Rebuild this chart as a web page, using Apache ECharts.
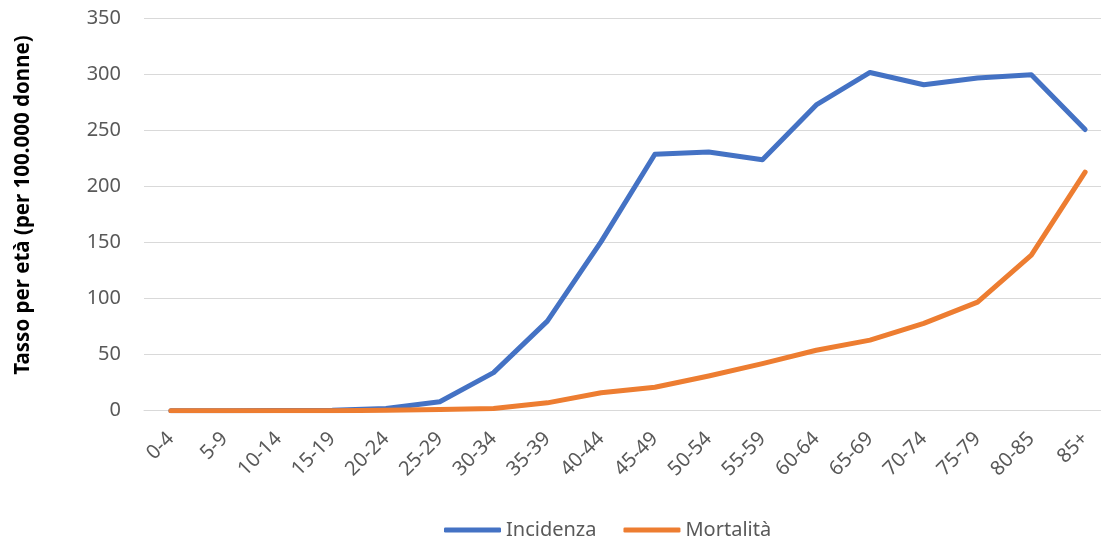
<!DOCTYPE html>
<html>
<head>
<meta charset="utf-8">
<script src="https://cdn.jsdelivr.net/npm/echarts@6/dist/echarts.min.js"></script>
<style>
	html, body { margin: 0; padding: 0; background: #fff; }
	#main { width: 1101px; height: 537px; }
</style>
</head>
<body>
<div id="main"></div>
<script>
const categories = ['0-4', '5-9', '10-14', '15-19', '20-24', '25-29', '30-34', '35-39', '40-44',
	'45-49', '50-54', '55-59', '60-64', '65-69', '70-74', '75-79', '80-85', '85+'];
const incidenza = [0, 0, 0.1, 0.5, 2, 8, 34, 80, 151, 229, 231, 224, 273, 302, 291, 297, 300, 251];
const mortalita = [0, 0, 0, 0, 0.3, 1, 2, 7, 16, 21, 31, 42, 54, 63, 78, 97, 139, 213];
const yTicks = [0, 50, 100, 150, 200, 250, 300, 350];

const FONT = '"Noto Sans", "Open Sans", sans-serif';

const myChart = echarts.init(document.getElementById('main'), null, { renderer: 'canvas' });

const option = {
	animation: false,
	color: ['#4472C4', '#ED7D31'],
	grid: {
		left: 144,
		width: 968,
		top: 18.7,
		height: 392,
		outerBoundsMode: 'none',
		containLabel: false
	},
	legend: {
		data: ['Incidenza', 'Mortalità'],
		left: 439,
		top: 515,
		icon: 'roundRect',
		itemWidth: 57,
		itemHeight: 5,
		itemGap: 27,
		textStyle: { fontFamily: FONT, fontSize: 20, color: '#595959' }
	},
	xAxis: {
		type: 'category',
		data: categories,
		boundaryGap: true,
		axisLine: { lineStyle: { color: '#D9D9D9', width: 1 } },
		axisTick: { show: false },
		axisLabel: {
			rotate: 45,
			interval: 0,
			margin: 25,
			fontFamily: FONT,
			fontSize: 20,
			color: '#595959'
		}
	},
	yAxis: {
		type: 'value',
		min: yTicks[0],
		max: yTicks[yTicks.length - 1],
		interval: 50,
		axisLine: { show: false },
		axisTick: { show: false },
		splitLine: { lineStyle: { color: '#D9D9D9', width: 1 } },
		axisLabel: {
			margin: 23,
			fontFamily: FONT,
			fontSize: 20,
			color: '#595959'
		}
	},
	graphic: [{
		type: 'text',
		x: 23,
		y: 205,
		rotation: Math.PI / 2,
		style: {
			text: 'Tasso per età (per 100.000 donne)',
			fontFamily: FONT,
			fontSize: 20.5,
			fontWeight: 'bold',
			fill: '#000',
			align: 'center',
			verticalAlign: 'middle'
		}
	}],
	series: [
		{
			name: 'Incidenza',
			type: 'line',
			data: incidenza,
			symbol: 'none',
			lineStyle: { width: 5, cap: 'round', join: 'round' }
		},
		{
			name: 'Mortalità',
			type: 'line',
			data: mortalita,
			symbol: 'none',
			lineStyle: { width: 5, cap: 'round', join: 'round' }
		}
	]
};

myChart.setOption(option);
</script>
</body>
</html>
